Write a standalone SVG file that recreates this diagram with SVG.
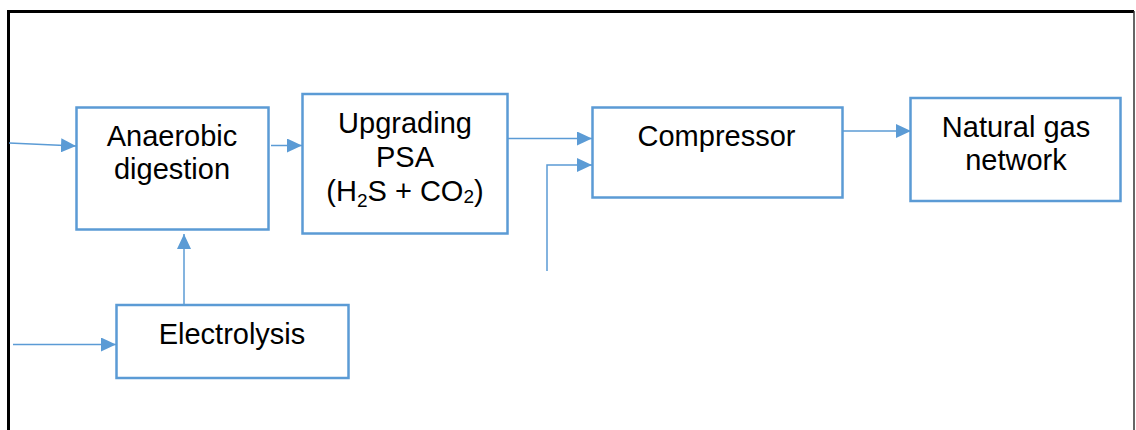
<svg xmlns="http://www.w3.org/2000/svg" width="1136" height="430" viewBox="0 0 1136 430">
<defs>
<style>
.box{fill:#fff;stroke:#5B9BD5;stroke-width:2.5}
.t{font-family:"Liberation Sans",Arial,sans-serif;font-size:29px;fill:#000;text-anchor:middle}
.c{fill:none;stroke:#5B9BD5;stroke-width:1.5}
</style>
<marker id="ah" markerUnits="userSpaceOnUse" markerWidth="16" markerHeight="14" refX="15" refY="7" orient="auto">
<path d="M0,0 L15,7 L0,14 Z" fill="#5B9BD5"/>
</marker>
</defs>
<rect width="1136" height="430" fill="#fff"/>
<path d="M8.5,432 V11.5 H1134" fill="none" stroke="#000" stroke-width="3"/>
<line x1="1134" y1="11" x2="1134" y2="432" stroke="#333" stroke-width="1.5"/>
<g id="connectors">
<path class="c" d="M9,143 L76,146" marker-end="url(#ah)"/>
<path class="c" d="M271,145.5 H302" marker-end="url(#ah)"/>
<path class="c" d="M508,138.5 H592" marker-end="url(#ah)"/>
<path class="c" d="M547,271 V165 H592" marker-end="url(#ah)"/>
<path class="c" d="M843,131 H911" marker-end="url(#ah)"/>
<path class="c" d="M184,310 V234" marker-end="url(#ah)"/>
<path class="c" d="M13,344.5 H116" marker-end="url(#ah)"/>
</g>
<g id="anaerobic">
<rect class="box" x="76.5" y="107.5" width="192" height="122"/>
<text class="t" x="172" y="146">Anaerobic</text>
<text class="t" x="172" y="179">digestion</text>
</g>
<g id="upgrading">
<rect class="box" x="302.5" y="94" width="205" height="139.5"/>
<text class="t" x="405" y="133">Upgrading</text>
<text class="t" x="405" y="167">PSA</text>
<text class="t" x="405" y="201">(H<tspan font-size="19" dy="6">2</tspan><tspan dy="-6">S + CO</tspan><tspan font-size="19" dy="2">2</tspan><tspan dy="-2">)</tspan></text>
</g>
<g id="compressor">
<rect class="box" x="592.5" y="107.5" width="250" height="90"/>
<text class="t" x="716.5" y="146">Compressor</text>
</g>
<g id="natural-gas">
<rect class="box" x="910.5" y="98" width="210" height="103"/>
<text class="t" x="1016" y="137">Natural gas</text>
<text class="t" x="1016" y="170">network</text>
</g>
<g id="electrolysis">
<rect class="box" x="116.5" y="305" width="232" height="73"/>
<text class="t" x="232" y="344">Electrolysis</text>
</g>
</svg>
